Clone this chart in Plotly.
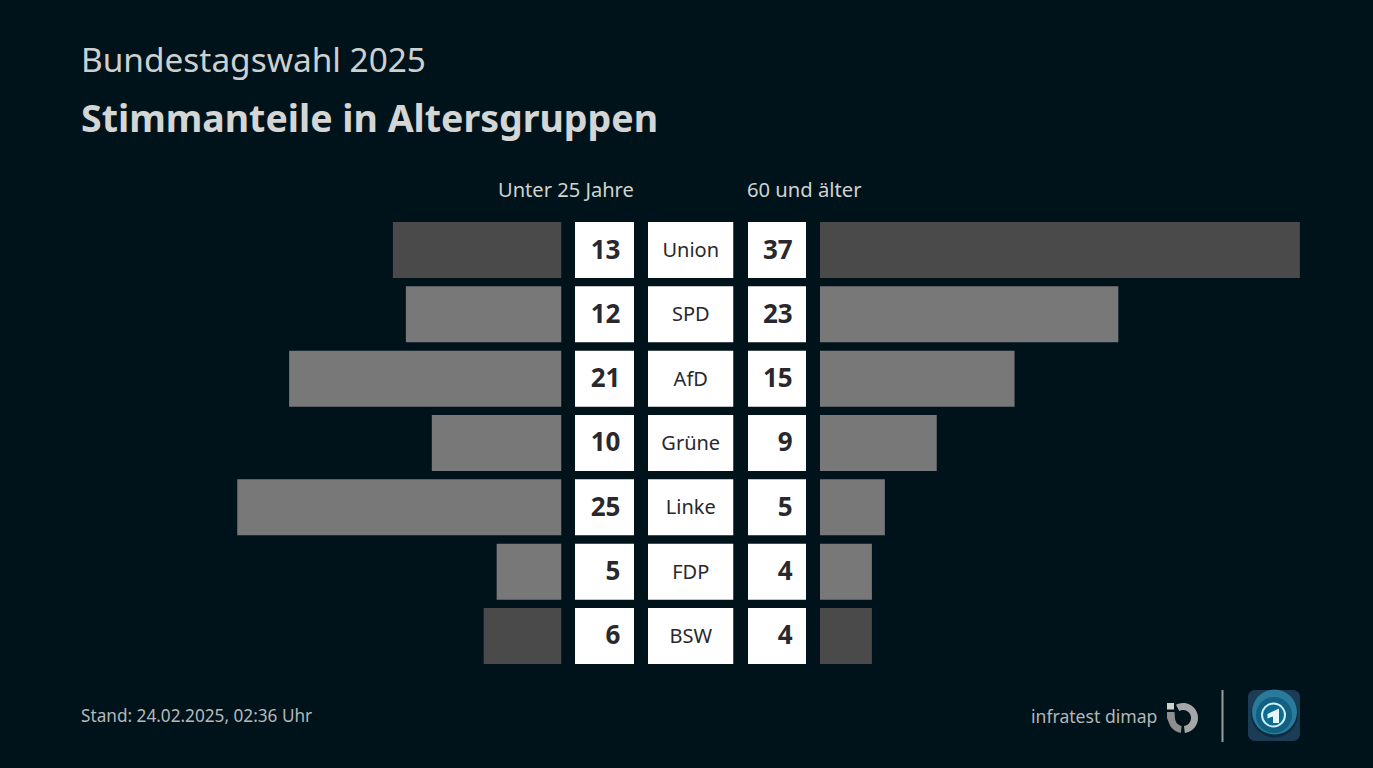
import math
import plotly.graph_objects as go

parties = ["Union", "SPD", "AfD", "Grüne", "Linke", "FDP", "BSW"]
under25 = [13, 12, 21, 10, 25, 5, 6]
over60 = [37, 23, 15, 9, 5, 4, 4]
bar_colors = ["#4a4a4a", "#787878", "#787878", "#787878", "#787878", "#787878", "#4a4a4a"]
left_header = "Unter 25 Jahre"
right_header = "60 und älter"
heading = "Bundestagswahl 2025"
title = "Stimmanteile in Altersgruppen"
footer = "Stand: 24.02.2025, 02:36 Uhr"
brand = "infratest dimap"

W, H = 1373, 768
FONT = "Noto Sans"
BG = "#01131a"
PXU = 12.97
ROW = 64.33
TOP = 250
TEXT_DROP = 2.0

fig = go.Figure()
cell = [1] * len(parties)
common = dict(orientation="h", width=56 / ROW, hoverinfo="skip", showlegend=False)
fig.add_bar(y=parties, x=under25, marker=dict(color=bar_colors, line_width=0), xaxis="x", yaxis="y", **common)
fig.add_bar(y=parties, x=over60, marker=dict(color=bar_colors, line_width=0), xaxis="x2", yaxis="y", **common)
for ax in ("x3", "x4", "x5"):
    fig.add_bar(y=parties, x=cell, marker=dict(color="#ffffff", line_width=0), xaxis=ax, yaxis="y", **common)

numfont = dict(family=FONT, size=26, color="#28282d", weight=700)
fig.add_scatter(y=parties, x=[0.77] * 7, text=[str(v) for v in under25], mode="text", textposition="middle left",
                textfont=numfont, xaxis="x3", yaxis="y2", showlegend=False, hoverinfo="skip")
fig.add_scatter(y=parties, x=[0.77] * 7, text=[str(v) for v in over60], mode="text", textposition="middle left",
                textfont=numfont, xaxis="x5", yaxis="y2", showlegend=False, hoverinfo="skip")
fig.add_scatter(y=parties, x=[0.5] * 7, text=parties, mode="text", textposition="middle center",
                textfont=dict(family=FONT, size=20, color="#28282d"), xaxis="x4", yaxis="y2",
                showlegend=False, hoverinfo="skip")


def dom(a, b):
    return [a / W, b / W]


hidden = dict(visible=False, fixedrange=True, anchor="y")


def txt(x, y, s, size, color="#d6d8d8", anchor="left", weight=400):
    fig.add_annotation(x=x / W, y=1 - y / H, xref="paper", yref="paper", text=s, showarrow=False,
                       xanchor=anchor, yanchor="middle", align=anchor,
                       font=dict(family=FONT, size=size, color=color, weight=weight))


txt(79, 58.5, heading, 33.4, "#cdd0d0")
txt(79, 117.5, title, 37.5, "#d4d6d6", weight=700)
txt(566, 189.5, left_header, 20.1, "#d0d3d3", "center")
txt(804, 189.5, right_header, 20.2, "#d0d3d3", "center")
txt(79, 715, footer, 17.2, "#b4b8b9")
txt(1159, 716, brand, 17.6, "#b4b7b7", "right")


def px(x, y):
    return f"{x / W:.5f},{1 - y / H:.5f}"


def poly(points):
    return "M" + " L".join(px(x, y) for x, y in points) + " Z"


def arc(cx, cy, r, a0, a1, n=40):
    return [(cx + r * math.cos(math.radians(a0 + (a1 - a0) * i / n)),
             cy + r * math.sin(math.radians(a0 + (a1 - a0) * i / n))) for i in range(n + 1)]


def ring_sector(cx, cy, ro, ri, a0, a1):
    return arc(cx, cy, ro, a0, a1) + arc(cx, cy, ri, a1, a0)


def round_rect(x0, y0, x1, y1, r):
    return (arc(x0 + r, y0 + r, r, 180, 270, 8) + arc(x1 - r, y0 + r, r, 270, 360, 8)
            + arc(x1 - r, y1 - r, r, 0, 90, 8) + arc(x0 + r, y1 - r, r, 90, 180, 8))


def circle(cx, cy, r, fill, line=None, lw=0):
    return dict(type="circle", xref="paper", yref="paper", x0=(cx - r) / W, x1=(cx + r) / W,
                y0=1 - (cy - r) / H, y1=1 - (cy + r) / H, fillcolor=fill,
                line=dict(color=line or fill, width=lw))


def path(points, fill):
    return dict(type="path", xref="paper", yref="paper", path=poly(points), fillcolor=fill, line_width=0)


cx, cy = 1183, 718
shapes = [
    # divider
    dict(type="line", xref="paper", yref="paper", x0=1222.5 / W, x1=1222.5 / W, y0=1 - 690 / H, y1=1 - 742 / H,
         line=dict(color="#9a9d9e", width=2)),
    # infratest dimap mark
    dict(type="rect", xref="paper", yref="paper", x0=1167 / W, x1=1174 / W, y0=1 - 703 / H, y1=1 - 709.5 / H,
         fillcolor="#cfcfcf", line_width=0),
    path(ring_sector(cx, cy, 15, 8, -118, 83), "#a6a6a6"),
    path([(1167, 712), (1174.5, 712), (1175, 718)] + arc(cx, cy, 8, 180, 100, 14)
         + arc(cx, cy, 15, 98, 150, 14) + [(1167, 718)], "#8e8e8e"),
    # Das Erste mark
    path(round_rect(1248, 690, 1300, 741, 7), "#1a3d55"),
    circle(1274.5, 714, 23.5, "#0d2c42"),
    circle(1274.5, 712, 22.5, "#2a7a9c"),
    circle(1274, 715, 18, "#125f80"),
    circle(1273.5, 715, 11.5, "#0e6c92", "#c8f0f8", 2),
    path([(1267.5, 714), (1279, 708.5), (1279, 723), (1273, 723), (1273, 716.5), (1267.5, 718.5)], "#e3f6fb"),
]

yrange = [(H - TOP) / ROW, -TOP / ROW]
fig.update_layout(
    width=W, height=H, margin=dict(l=0, r=0, t=0, b=0), paper_bgcolor=BG, plot_bgcolor="rgba(0,0,0,0)",
    barmode="overlay", showlegend=False, shapes=shapes,
    xaxis=dict(domain=dom(0, 561.5), range=[561.5 / PXU, 0], **hidden),
    xaxis2=dict(domain=dom(820, W), range=[0, (W - 820) / PXU], **hidden),
    xaxis3=dict(domain=dom(575, 634), range=[0, 1], **hidden),
    xaxis4=dict(domain=dom(648, 733.5), range=[0, 1], **hidden),
    xaxis5=dict(domain=dom(748, 806), range=[0, 1], **hidden),
    yaxis=dict(visible=False, fixedrange=True, domain=[0, 1], type="category", categoryorder="array",
               categoryarray=parties, range=yrange),
    yaxis2=dict(visible=False, fixedrange=True, domain=[0, 1], type="category", categoryorder="array",
                categoryarray=parties, overlaying="y",
                range=[yrange[0] - TEXT_DROP / ROW, yrange[1] - TEXT_DROP / ROW]),
)
fig.write_html("out.html", config={"displayModeBar": False},
               post_script="document.body.style.margin='0';document.body.style.background='" + BG + "';")
